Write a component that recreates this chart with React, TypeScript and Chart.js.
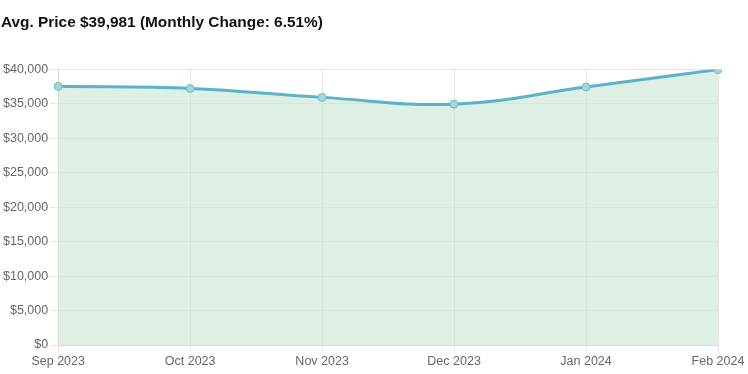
import React, { useEffect, useRef } from "react";
import { Chart, registerables } from "chart.js";

Chart.register(...registerables);

const categories = ["Sep 2023", "Oct 2023", "Nov 2023", "Dec 2023", "Jan 2024", "Feb 2024"];
const avgPrice = [37550, 37250, 35950, 34970, 37450, 39981];
const titleText = "Avg. Price $39,981 (Monthly Change: 6.51%)";

export default function App() {
  const ref = useRef<HTMLCanvasElement>(null);
  useEffect(() => {
    document.body.style.margin = "0";
    const chart = new Chart(ref.current!, {
      type: "line",
      data: {
        labels: categories,
        datasets: [
          {
            data: avgPrice,
            borderColor: "#5ab3c9",
            backgroundColor: "rgba(200,230,210,0.6)",
            fill: "origin",
            borderWidth: 3,
            tension: 0.4,
            pointRadius: 4,
            pointBackgroundColor: "#a4d6d8",
            pointBorderColor: "#6cbccc",
            pointBorderWidth: 1,
          },
        ],
      },
      options: {
        animation: false,
        responsive: false,
        layout: { padding: { left: 1, right: 30, top: 0, bottom: 4 } },
        plugins: {
          legend: { display: false },
          tooltip: { enabled: false },
          title: {
            display: true,
            text: titleText,
            align: "start",
            color: "#111",
            font: { family: "Arial, Liberation Sans", size: 15.4, weight: "bold" },
            padding: { top: 14, bottom: 37 },
          },
        },
        scales: {
          x: {
            grid: { color: "#e6e6e6", drawTicks: true, tickLength: 8 },
            border: { color: "#d8d8d8" },
            ticks: { color: "#666", padding: 1, font: { family: "Arial, Liberation Sans", size: 12.5 }, maxRotation: 0 },
          },
          y: {
            min: 0,
            max: 40000,
            grid: { color: "#e6e6e6", tickLength: 8 },
            border: { color: "#d8d8d8" },
            ticks: {
              stepSize: 5000,
              color: "#666",
              padding: 2,
              font: { family: "Arial, Liberation Sans", size: 12.5 },
              callback: (v: any) => "$" + Number(v).toLocaleString("en-US"),
            },
          },
        },
      },
    });
    return () => chart.destroy();
  }, []);
  return <canvas ref={ref} width={748} height={374} style={{ display: "block" }} />;
}
